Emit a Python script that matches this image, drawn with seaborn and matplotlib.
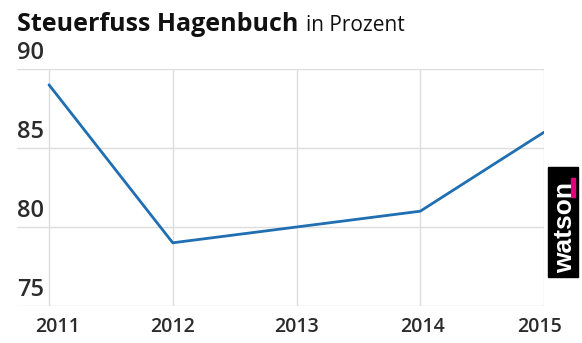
import matplotlib
matplotlib.use("Agg")
import matplotlib.pyplot as plt
import matplotlib.transforms as mtrans
from matplotlib.patches import Rectangle
import seaborn as sns
import pandas as pd

# ---- data ----
years = [2011, 2012, 2013, 2014, 2015]
rate = [89, 79, 80, 81, 86]
y_ticks = [75, 80, 85, 90]
x_labels = ["2011", "2012", "2013", "2014", "2015"]
title = "Steuerfuss Hagenbuch"
subtitle = "in Prozent"
brand = "watson"

df = pd.DataFrame({"Jahr": years, "Steuerfuss": rate})

sns.set_theme(style="white")
plt.rcParams['font.family'] = ['Open Sans', 'DejaVu Sans']

W, H = 582, 343
DPI = 100
fig = plt.figure(figsize=(W / DPI, H / DPI), dpi=DPI)
fig.patch.set_facecolor("white")

left, right, top, bottom = 17, 544, 69, 306
ax = fig.add_axes([left / W, 1 - bottom / H, (right - left) / W, (bottom - top) / H])
ax.set_facecolor("white")

sns.lineplot(data=df, x="Jahr", y="Steuerfuss", ax=ax, color="#1f6fb2",
             linewidth=2.0, zorder=3)

step_px = (right - 49) / (len(years) - 1)
ax.set_xlim(years[0] - (49 - left) / step_px, years[-1])
ax.set_ylim(y_ticks[0], y_ticks[-1])

for s in ax.spines.values():
    s.set_visible(False)

ax.set_xticks(years)
ax.set_xticklabels(x_labels, fontsize=14, color="#2b2b2b", fontweight="semibold")
ax.set_yticks(y_ticks)
ax.set_yticklabels([])
ax.tick_params(axis="both", length=0)
ax.tick_params(axis="x", pad=8)
ax.grid(True, color="#dddddd", linewidth=1)
ax.set_xlabel("")
ax.set_ylabel("")

# nudge first / last x labels
offsets = [9, 0, 0, 2, -4]
for lab, dx in zip(ax.get_xticklabels(), offsets):
    lab.set_transform(lab.get_transform() + mtrans.ScaledTranslation(dx / DPI, 0, fig.dpi_scale_trans))

# y labels above gridlines
ytrans = mtrans.blended_transform_factory(ax.transAxes, ax.transData) + \
    mtrans.ScaledTranslation(0, 4 / DPI, fig.dpi_scale_trans)
for v in y_ticks:
    ax.text(0, v, str(v), transform=ytrans, ha="left", va="bottom",
            fontsize=17, color="#2b2b2b", fontweight="semibold")

# title
t = fig.text(17 / W, 1 - 31 / H, title, fontsize=18, fontweight="bold",
             color="#111111", va="baseline", ha="left")
fig.canvas.draw()
bb = t.get_window_extent()
fig.text((bb.x1 + 8) / W, 1 - 31 / H, subtitle, fontsize=15,
         color="#111111", va="baseline", ha="left")

# brand logo
fig.add_artist(Rectangle((548 / W, 1 - 277 / H), 30 / W, 110 / H,
                         transform=fig.transFigure, color="black", zorder=5))
fig.add_artist(Rectangle((571 / W, 1 - 197 / H), 4 / W, 19 / H,
                         transform=fig.transFigure, color="#e5007d", zorder=6))
fig.text(572 / W, 1 - 273 / H, brand, rotation=90, rotation_mode="anchor",
         ha="left", va="baseline", fontsize=19, fontweight="bold",
         color="white", family=["Liberation Sans", "DejaVu Sans"], zorder=7)

fig.savefig("out.png", dpi=DPI)
